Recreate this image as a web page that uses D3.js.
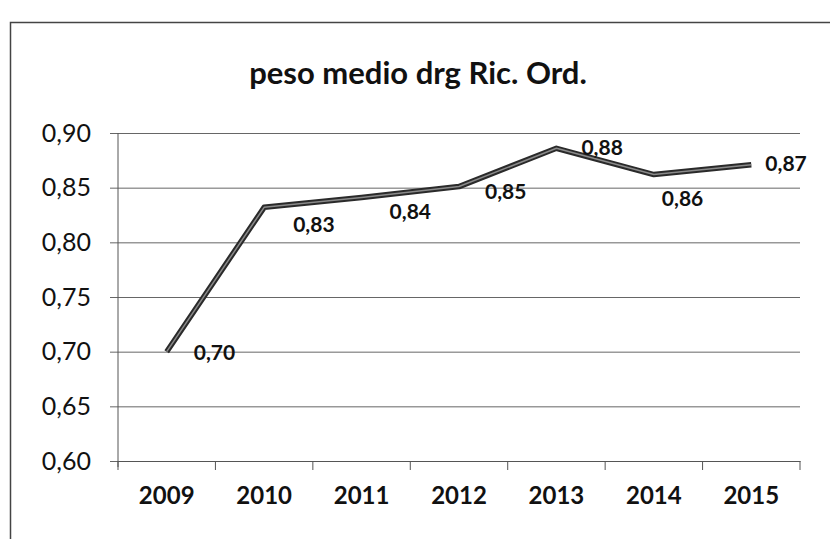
<!DOCTYPE html>
<html><head><meta charset="utf-8">
<script src="https://cdn.jsdelivr.net/npm/d3@7"></script>
<style>html,body{margin:0;padding:0;background:#fff;}svg{display:block;font-family:Lato,"Open Sans",sans-serif;}</style>
</head><body><svg id="c" width="830" height="539"></svg>
<script>
const years = ["2009","2010","2011","2012","2013","2014","2015"];
const values = [0.700, 0.832, 0.841, 0.851, 0.886, 0.862, 0.871];
const labels = ["0,70","0,83","0,84","0,85","0,88","0,86","0,87"];
const yTicks = [0.60, 0.65, 0.70, 0.75, 0.80, 0.85, 0.90];
const title = "peso medio drg Ric. Ord.";
// label layout offsets (dx, dy) relative to each point
const labelOffsets = [[27,8],[29,25],[28,21],[26,12],[25,7],[8,31],[14,6]];

const svg = d3.select("#c");
const L = 118, R = 800, T = 133, B = 461;
const x = d3.scaleBand().domain(years).range([L, R]);
const y = d3.scaleLinear().domain([0.60, 0.90]).range([B, T]);
const fmt = v => v.toFixed(2).replace(".", ",");

// outer frame
svg.append("rect").attr("x",10.5).attr("y",22.5).attr("width",840).attr("height",560)
  .attr("fill","none").attr("stroke","#444").attr("stroke-width",1.5);

// title
svg.append("text").attr("x",418).attr("y",84).attr("text-anchor","middle")
  .attr("font-size",31).attr("font-weight","bold").attr("fill","#111").text(title);

// gridlines + y axis
const ya = svg.append("g").attr("transform",`translate(${L},0)`)
  .call(d3.axisLeft(y).tickValues(yTicks).tickFormat(fmt).tickSize(8).tickPadding(19));
ya.select(".domain").remove();
ya.selectAll(".tick line").attr("x1",-8).attr("x2",R-L).attr("stroke","#666").attr("stroke-width",1);
ya.selectAll(".tick text").attr("font-size",25).attr("fill","#111").attr("font-family","Lato,'Open Sans',sans-serif");
svg.append("line").attr("x1",L).attr("x2",L).attr("y1",T).attr("y2",B+6).attr("stroke","#555");

// x axis
const xa = svg.append("g").attr("transform",`translate(0,${B})`)
  .call(d3.axisBottom(x).tickSize(0).tickPadding(26));
xa.select(".domain").attr("stroke","#555");
xa.selectAll(".tick text").attr("font-size",24).attr("font-weight","bold").attr("fill","#111").attr("font-family","Lato,'Open Sans',sans-serif");
svg.append("g").selectAll("line").data(years.concat([null])).join("line")
  .attr("x1",(d,i)=>L + i*x.step()).attr("x2",(d,i)=>L + i*x.step())
  .attr("y1",B).attr("y2",B+9).attr("stroke","#555");

// line
const cx = d => x(d) + x.bandwidth()/2;
const line = d3.line().x((d,i)=>cx(years[i])).y(d=>y(d));
svg.append("path").datum(values).attr("d",line).attr("fill","none")
  .attr("stroke","#2a2a2a").attr("stroke-width",5.5).attr("stroke-linejoin","round");
svg.append("path").datum(values).attr("d",line).attr("fill","none")
  .attr("stroke","#8a8a8a").attr("stroke-width",1.5).attr("stroke-linejoin","round");

// data labels
svg.append("g").selectAll("text").data(values).join("text")
  .attr("x",(d,i)=>cx(years[i]) + labelOffsets[i][0])
  .attr("y",(d,i)=>y(d) + labelOffsets[i][1])
  .attr("font-size",21).attr("font-weight","bold").attr("fill","#111")
  .text((d,i)=>labels[i]);
</script></body></html>
